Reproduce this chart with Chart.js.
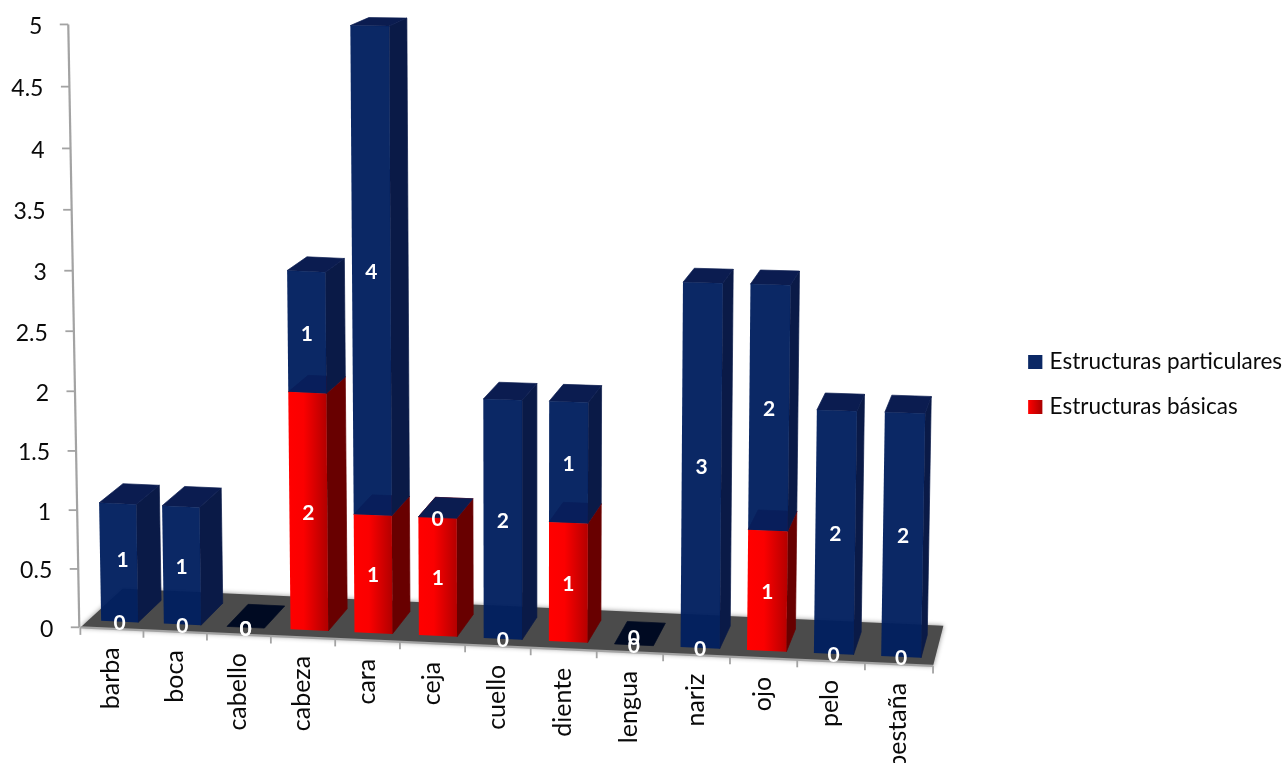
<!DOCTYPE html>
<html lang="es">
<head>
<meta charset="utf-8">
<title>Estructuras por parte del cuerpo</title>
<script src="https://cdn.jsdelivr.net/npm/chart.js@4/dist/chart.umd.js"></script>
<style>
  html, body { margin: 0; background: #fff; overflow: hidden; }
  canvas { display: block; }
</style>
</head>
<body>
<canvas id="chart" width="1285" height="763"></canvas>
<script>
const categories = ['barba', 'boca', 'cabello', 'cabeza', 'cara', 'ceja', 'cuello', 'diente', 'lengua', 'nariz', 'ojo', 'pelo', 'pestaña'];
const basicas = [0, 0, 0, 2, 1, 1, 0, 1, 0, 0, 1, 0, 0];
const particulares = [1, 1, 0, 1, 4, 0, 2, 1, 0, 3, 2, 2, 2];
const yTickStep = 0.5;
const yMax = 5;

const FONT = 'Lato, Carlito, Calibri, sans-serif';
const TEXT = '#0a0a0a';
const BLUE = { front: 'rgba(1,31,95,0.96)', side: '#0a1a47', top: '#0b1c50' };
const RED = { side: '#680000', top: '#a80000' };
const AXIS_GREY = '#a3a3a3';

// perspective of the front plane: u = category position, v = value
function bandCenter(u) { return 119.6 + 62.63 * u + 0.208 * u * u; }
function baseLine(x) { return 620.7 + 0.0452 * (x - 100.7); }
function rise(v) { return 117 * v + 0.86 * v * v; }

function front(u, v) {
  const x0 = bandCenter(u);
  const h = rise(v) * (1 + 5e-5 * Math.max(0, x0 - 350));
  return { x: x0 + 4.15e-5 * (x0 - 520) * h, y: baseLine(x0) - h };
}

// d = 1 is one bar depth towards the back
function back(p, d) {
  return { x: p.x + d * (26 - 0.0215 * p.x), y: p.y - d * (8 + (p.y - 27) * 0.0235) };
}

// the value axis has its own slant, it stands at the corner of the floor
function axisPoint(v) {
  const h = rise(v) * 0.994;
  return { x: 79.3 - 0.0183 * h, y: 627.3 - h };
}

function poly(ctx, pts, fill, seam) {
  ctx.beginPath();
  pts.forEach((p, i) => (i ? ctx.lineTo(p.x, p.y) : ctx.moveTo(p.x, p.y)));
  ctx.closePath();
  ctx.fillStyle = fill;
  ctx.fill();
  if (seam) {
    // closes the light hairline between neighbouring faces
    ctx.strokeStyle = fill;
    ctx.lineWidth = 0.7;
    ctx.stroke();
  }
}

function drawFloor(ctx) {
  const n = categories.length;
  const a = back(front(-0.5, 0), -0.33);
  const b = back(front(n - 0.5, 0), -0.33);
  const c = back(front(n - 0.5, 0), 1.43);
  const d = back(front(-0.5, 0), 1.43);
  ctx.save();
  ctx.shadowColor = 'rgba(0,0,0,0.45)';
  ctx.shadowBlur = 5;
  poly(ctx, [a, b, c, d], '#4b4b4b');
  ctx.restore();

  ctx.strokeStyle = AXIS_GREY;
  ctx.lineWidth = 2.2;
  ctx.beginPath();
  ctx.moveTo(a.x, a.y);
  ctx.lineTo(b.x, b.y);
  ctx.stroke();

  // category ticks sit on the band edges
  ctx.lineWidth = 1.8;
  for (let i = 0; i <= n; i++) {
    const t = back(front(i - 0.5, 0), -0.33);
    ctx.beginPath();
    ctx.moveTo(t.x, t.y);
    ctx.lineTo(t.x, t.y + 7.5);
    ctx.stroke();
  }
}

function drawValueAxis(ctx, chart) {
  const lo = axisPoint(0);
  const hi = axisPoint(yMax);
  ctx.strokeStyle = AXIS_GREY;
  ctx.lineWidth = 2.2;
  ctx.beginPath();
  ctx.moveTo(lo.x, lo.y);
  ctx.lineTo(hi.x, hi.y);
  ctx.stroke();
  ctx.lineWidth = 1.8;
  chart.scales.y.ticks.forEach(t => {
    const p = axisPoint(t.value);
    ctx.beginPath();
    ctx.moveTo(p.x, p.y);
    ctx.lineTo(p.x - 8.5, p.y);
    ctx.stroke();
  });
}

function drawBox(ctx, u, halfW, vLow, vHigh, colors, frontFill) {
  const bl = front(u - halfW, vLow);
  const br = front(u + halfW, vLow);
  const tl = front(u - halfW, vHigh);
  const tr = front(u + halfW, vHigh);
  if (vHigh > vLow) poly(ctx, [tr, br, back(br, 1), back(tr, 1)], colors.side, true);
  poly(ctx, [tl, tr, back(tr, 1), back(tl, 1)], colors.top, true);
  if (vHigh > vLow) poly(ctx, [bl, br, tr, tl], frontFill(tl.x, tr.x));
}

function labelAnchors(chart) {
  // nudges for the labels that sit away from the middle of their segment
  const nudge = { '1:0': [4, -4], '1:8': [0, -8] };
  const items = [];
  const xs = chart.scales.x;
  const ys = chart.scales.y;
  const band = xs.width / categories.length;
  chart.data.datasets.forEach((ds, di) => {
    chart.getDatasetMeta(di).data.forEach((el, i) => {
      const u = (el.x - xs.left) / band - 0.5;
      const a = front(u, ys.getValueForPixel(el.base));
      const b = front(u, ys.getValueForPixel(el.y));
      const n = nudge[di + ':' + i] || [0, 0];
      items.push({ text: String(ds.data[i]), x: (a.x + b.x) / 2 + n[0], y: (a.y + b.y) / 2 + 1.7 + n[1] });
    });
  });
  return items;
}

const perspectivePlugin = {
  id: 'perspective',
  beforeDraw(chart) {
    // move the library's tick labels onto the slanted axes
    const xs = chart.scales.x;
    xs.getLabelItems(chart.chartArea).forEach((item, i) => {
      const edge = back(front(i, 0), -0.33);
      item.textOffset = 0;
      item.options.translation = [edge.x - 0.6, edge.y + 18.5];
    });
    const ys = chart.scales.y;
    ys.getLabelItems(chart.chartArea).forEach((item, i) => {
      const p = axisPoint(ys.ticks[i].value);
      item.options.translation = [p.x - 26, p.y + 2];
    });
  },
  beforeDatasetsDraw(chart) {
    const ctx = chart.ctx;
    const xs = chart.scales.x;
    const ys = chart.scales.y;
    const band = xs.width / categories.length;
    const [redMeta, blueMeta] = [chart.getDatasetMeta(0), chart.getDatasetMeta(1)];

    drawFloor(ctx);
    drawValueAxis(ctx, chart);

    const redFront = (x0, x1) => {
      const g = ctx.createLinearGradient(x0, 0, x1, 0);
      g.addColorStop(0, '#ff0000');
      g.addColorStop(0.4, '#fb0000');
      g.addColorStop(1, '#b40000');
      return g;
    };

    categories.forEach((name, i) => {
      const red = redMeta.data[i];
      const blue = blueMeta.data[i];
      const u = (red.x - xs.left) / band - 0.5;
      const halfW = red.width / band / 2;
      const top = ys.getValueForPixel(blue.y);
      const mid = ys.getValueForPixel(red.y);
      if (top === 0) {
        // nothing on this category, only the empty lid on the floor
        drawBox(ctx, u, halfW, 0, 0, { top: '#000a22' }, () => null);
        return;
      }
      if (mid > 0) drawBox(ctx, u, halfW, 0, mid, RED, redFront);
      drawBox(ctx, u, halfW, mid, top, BLUE, () => BLUE.front);
    });

    ctx.save();
    ctx.fillStyle = '#fff';
    ctx.font = 'bold 21px ' + FONT;
    ctx.textAlign = 'center';
    ctx.textBaseline = 'middle';
    labelAnchors(chart).forEach(l => ctx.fillText(l.text, l.x, l.y));
    ctx.restore();
    return false;
  },
  afterDraw(chart) {
    // legend swatches: square, the red one with the same shading as the bars
    const ctx = chart.ctx;
    chart.legend.legendHitBoxes.forEach((box, i) => {
      const y = box.top + (box.height - 14) / 2;
      let fill = '#0b2865';
      if (i === 1) {
        fill = ctx.createLinearGradient(box.left, 0, box.left + 14, 0);
        fill.addColorStop(0, '#ff0000');
        fill.addColorStop(1, '#a80000');
      }
      ctx.fillStyle = fill;
      ctx.fillRect(box.left, y, 14, 14);
    });
  }
};

new Chart(document.getElementById('chart'), {
  type: 'bar',
  data: {
    labels: categories,
    datasets: [
      { label: 'Estructuras básicas', data: basicas, backgroundColor: '#ff0000' },
      { label: 'Estructuras particulares', data: particulares, backgroundColor: '#0b2865' }
    ]
  },
  options: {
    responsive: false,
    animation: false,
    events: [],
    datasets: { bar: { categoryPercentage: 1, barPercentage: 0.59 } },
    layout: { padding: { top: 6, right: -7, bottom: 0, left: 0 } },
    plugins: {
      tooltip: { enabled: false },
      legend: {
        position: 'right',
        reverse: true,
        labels: {
          boxWidth: 10,
          boxHeight: 14,
          padding: 22.5,
          color: TEXT,
          font: { family: FONT, size: 22.5 }
        }
      }
    },
    scales: {
      x: {
        stacked: true,
        afterFit: s => { s.height = 123; },
        grid: { display: false },
        border: { display: false },
        ticks: {
          autoSkip: false,
          minRotation: 90,
          maxRotation: 90,
          color: TEXT,
          font: { family: FONT, size: 25 }
        }
      },
      y: {
        stacked: true,
        min: 0,
        max: yMax,
        afterFit: s => { s.width = 60; },
        grid: { display: false },
        border: { display: false },
        ticks: {
          stepSize: yTickStep,
          autoSkip: false,
          callback: v => String(v),
          color: TEXT,
          font: { family: FONT, size: 23 }
        }
      }
    }
  },
  plugins: [perspectivePlugin]
});
</script>
</body>
</html>
